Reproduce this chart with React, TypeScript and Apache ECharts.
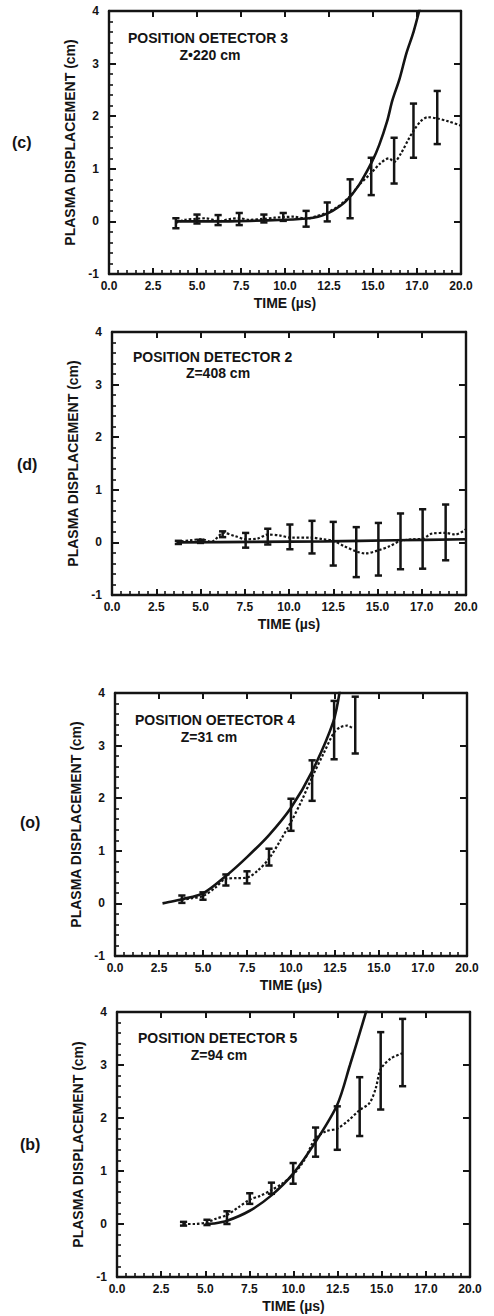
import React, { useEffect, useRef } from "react";
import * as echarts from "echarts";

// ---------- tick labels ----------
const X_TICK_LABELS = ["0.0", "2.5", "5.0", "7.5", "10.0", "12.5", "15.0", "17.0", "20.0"];
const Y_TICK_LABELS = ["-1", "0", "1", "2", "3", "4"];

// ---------- panel (c) : detector 3, z = 220 cm ----------
const C_BAR_T = [3.8, 5.0, 6.2, 7.4, 8.8, 9.9, 11.2, 12.4, 13.7, 14.9, 16.2, 17.3, 18.65];
const C_BAR_LOW = [-0.13, -0.04, -0.07, -0.07, -0.02, 0.01, -0.1, 0.0, 0.06, 0.5, 0.72, 1.21, 1.47];
const C_BAR_HIGH = [0.06, 0.13, 0.12, 0.16, 0.13, 0.16, 0.2, 0.36, 0.8, 1.21, 1.59, 2.24, 2.48];
const C_MEAS_T = [3.8, 4.3, 5.0, 5.5, 6.0, 6.2, 6.8, 7.4, 8.0, 8.8, 9.4, 9.9, 10.5, 11.2, 11.8, 12.4, 13.0, 13.7, 14.2, 14.9, 15.4, 15.9, 16.2, 16.6, 17.0, 17.3, 17.7, 18.1, 18.6, 19.3, 20.0];
const C_MEAS_Y = [-0.03, 0.03, 0.05, 0.06, 0.02, 0.0, 0.04, 0.06, 0.03, 0.05, 0.07, 0.08, 0.09, 0.05, 0.1, 0.17, 0.28, 0.48, 0.69, 0.92, 1.1, 1.2, 1.13, 1.3, 1.55, 1.72, 1.9, 1.98, 1.96, 1.9, 1.82];
const C_FIT_T = [3.8, 6.0, 8.0, 10.0, 11.0, 11.6, 12.1, 12.7, 13.45, 14.2, 14.95, 15.35, 15.8, 16.1, 16.5, 16.9, 17.3, 17.7];
const C_FIT_Y = [0.0, 0.0, 0.01, 0.03, 0.05, 0.07, 0.11, 0.2, 0.38, 0.69, 1.14, 1.45, 1.9, 2.3, 2.7, 3.2, 3.6, 4.1];

// ---------- panel (d) : detector 2, z = 408 cm ----------
const D_BAR_T = [3.75, 5.0, 6.25, 7.55, 8.8, 10.05, 11.3, 12.5, 13.8, 15.05, 16.3, 17.55, 18.85];
const D_BAR_LOW = [-0.03, -0.01, 0.1, -0.1, -0.04, -0.13, -0.21, -0.44, -0.66, -0.63, -0.51, -0.5, -0.34];
const D_BAR_HIGH = [0.03, 0.05, 0.21, 0.18, 0.26, 0.34, 0.41, 0.39, 0.29, 0.37, 0.55, 0.63, 0.72];
const D_MEAS_T = [3.65, 4.4, 5.05, 5.6, 6.3, 6.95, 7.57, 8.2, 8.8, 9.5, 10.1, 11.3, 11.9, 12.5, 13.1, 13.8, 14.3, 15.05, 15.7, 16.3, 17.0, 17.55, 18.1, 18.85, 19.4, 20.0];
const D_MEAS_Y = [0.01, 0.04, 0.06, 0.01, 0.18, 0.12, 0.06, 0.07, 0.15, 0.13, 0.09, 0.09, 0.06, 0.03, -0.07, -0.17, -0.21, -0.15, -0.07, 0.03, 0.06, 0.07, 0.17, 0.18, 0.15, 0.25];
const D_FIT_T = [3.65, 8.0, 12.0, 16.0, 20.0];
const D_FIT_Y = [0.0, 0.01, 0.02, 0.04, 0.06];

// ---------- panel (o) : detector 4, z = 31 cm ----------
const O_BAR_T = [3.8, 5.0, 6.3, 7.5, 8.75, 10.0, 11.2, 12.45, 13.65];
const O_BAR_LOW = [0.01, 0.07, 0.34, 0.38, 0.72, 1.38, 1.95, 2.74, 2.85];
const O_BAR_HIGH = [0.15, 0.21, 0.55, 0.61, 1.04, 1.99, 2.72, 3.85, 3.93];
const O_MEAS_T = [3.8, 4.4, 5.0, 5.7, 6.3, 6.9, 7.5, 8.1, 8.75, 9.4, 10.0, 10.6, 11.2, 11.85, 12.45, 12.8, 13.2, 13.5];
const O_MEAS_Y = [0.07, 0.1, 0.14, 0.3, 0.47, 0.48, 0.49, 0.62, 0.85, 1.2, 1.55, 1.95, 2.4, 2.85, 3.25, 3.35, 3.38, 3.33];
const O_FIT_T = [2.7, 3.0, 3.8, 5.0, 6.3, 7.5, 8.75, 10.0, 11.2, 12.4, 12.8];
const O_FIT_Y = [0.0, 0.02, 0.08, 0.19, 0.52, 0.88, 1.3, 1.82, 2.51, 3.45, 4.1];

// ---------- panel (b) : detector 5, z = 94 cm ----------
const B_BAR_T = [3.77, 5.1, 6.23, 7.52, 8.75, 9.98, 11.25, 12.48, 13.75, 14.94, 16.18];
const B_BAR_LOW = [-0.03, -0.02, 0.0, 0.38, 0.57, 0.76, 1.27, 1.4, 1.66, 2.16, 2.6];
const B_BAR_HIGH = [0.04, 0.08, 0.24, 0.58, 0.78, 1.15, 1.82, 2.22, 2.77, 3.62, 3.87];
const B_MEAS_T = [3.77, 4.4, 5.1, 5.6, 6.23, 6.9, 7.52, 8.1, 8.75, 9.35, 9.98, 10.6, 11.25, 11.85, 12.48, 13.1, 13.75, 14.3, 14.65, 14.94, 15.5, 16.18];
const B_MEAS_Y = [0.0, 0.0, 0.03, 0.1, 0.17, 0.32, 0.46, 0.53, 0.64, 0.76, 0.93, 1.2, 1.62, 1.75, 1.8, 1.95, 2.15, 2.28, 2.55, 2.92, 3.12, 3.22];
const B_FIT_T = [5.0, 5.5, 6.23, 7.52, 8.75, 9.98, 11.25, 12.48, 13.2, 13.75, 14.15];
const B_FIT_Y = [0.0, 0.01, 0.06, 0.25, 0.54, 0.95, 1.55, 2.25, 3.0, 3.6, 4.05];

// ---------- texts ----------
const PANEL_TAGS = ["(c)", "(d)", "(o)", "(b)"];
const DETECTOR_TITLES = ["POSITION OETECTOR 3", "POSITION DETECTOR 2", "POSITION OETECTOR 4", "POSITION DETECTOR 5"];
const Z_TITLES = ["Z\u2022220 cm", "Z=408 cm", "Z=31 cm", "Z=94 cm"];
const Y_NAME = "PLASMA DISPLACEMENT (cm)";
const X_NAME = "TIME (\u00b5s)";

const zip = (a: number[], b: number[]) => a.map((v, i) => [v, b[i]]);
const bars = (t: number[], lo: number[], hi: number[]) => t.map((v, i) => [v, lo[i], hi[i]]);

const PANEL_DATA = [
  { bars: bars(C_BAR_T, C_BAR_LOW, C_BAR_HIGH), meas: zip(C_MEAS_T, C_MEAS_Y), fit: zip(C_FIT_T, C_FIT_Y) },
  { bars: bars(D_BAR_T, D_BAR_LOW, D_BAR_HIGH), meas: zip(D_MEAS_T, D_MEAS_Y), fit: zip(D_FIT_T, D_FIT_Y) },
  { bars: bars(O_BAR_T, O_BAR_LOW, O_BAR_HIGH), meas: zip(O_MEAS_T, O_MEAS_Y), fit: zip(O_FIT_T, O_FIT_Y) },
  { bars: bars(B_BAR_T, B_BAR_LOW, B_BAR_HIGH), meas: zip(B_MEAS_T, B_MEAS_Y), fit: zip(B_FIT_T, B_FIT_Y) },
];

// layout (pixels)
const GRIDS = [
  { left: 109, top: 11, width: 352, height: 263 },
  { left: 112, top: 332, width: 354, height: 263 },
  { left: 115, top: 693, width: 352, height: 263 },
  { left: 117, top: 1012, width: 353, height: 265 },
];
const TAG_POS = [[24, 143], [29, 465], [32, 823], [32, 1145]];
const TITLE_POS = [[128, 38], [133, 357], [135, 720], [138, 1038]];
const Z_POS = [[210, 55], [218, 373], [209, 737], [219, 1055]];

const INK = "#141414";
const FONT = "'Liberation Sans', Arial, sans-serif";

function buildOption() {
  const grid: any[] = [];
  const xAxis: any[] = [];
  const yAxis: any[] = [];
  const series: any[] = [];
  const graphic: any[] = [];

  GRIDS.forEach((g, i) => {
    grid.push({ ...g, containLabel: false });
    const common = {
      type: "value",
      gridIndex: i,
      splitLine: { show: false },
      axisLine: { show: true, onZero: false, lineStyle: { color: INK, width: 2.4 } },
    };
    xAxis.push({
      ...common,
      position: "bottom",
      min: 0,
      max: 20,
      interval: 2.5,
      axisTick: { show: true, inside: true, length: 6, lineStyle: { color: INK, width: 2 } },
      minorTick: { show: true, splitNumber: 5, length: 4, lineStyle: { color: INK, width: 1.6 } },
      axisLabel: {
        show: true,
        margin: 6,
        color: INK,
        fontFamily: FONT,
        fontWeight: "bold",
        fontSize: 12,
        formatter: (v: number) => X_TICK_LABELS[Math.round(v / 2.5)] ?? "",
      },
      name: X_NAME,
      nameLocation: "middle",
      nameGap: 22,
      nameTextStyle: { color: INK, fontFamily: FONT, fontWeight: "bold", fontSize: 14 },
    });
    xAxis.push({
      ...common,
      position: "top",
      min: 0,
      max: 20,
      interval: 2.5,
      axisTick: { show: true, inside: true, length: 6, lineStyle: { color: INK, width: 2 } },
      axisLabel: { show: false },
    });
    yAxis.push({
      ...common,
      position: "left",
      min: -1,
      max: 4,
      interval: 1,
      axisTick: { show: true, inside: true, length: 7, lineStyle: { color: INK, width: 2 } },
      minorTick: { show: true, splitNumber: 5, length: 4, lineStyle: { color: INK, width: 1.6 } },
      axisLabel: {
        show: true,
        margin: 10,
        color: INK,
        fontFamily: FONT,
        fontWeight: "bold",
        fontSize: 12,
        formatter: (v: number) => Y_TICK_LABELS[Math.round(v + 1)] ?? "",
      },
      name: Y_NAME,
      nameLocation: "middle",
      nameRotate: 90,
      nameGap: 30,
      nameTextStyle: { color: INK, fontFamily: FONT, fontWeight: "bold", fontSize: 14 },
    });
    yAxis.push({
      ...common,
      position: "right",
      min: -1,
      max: 4,
      interval: 1,
      axisTick: { show: true, inside: true, length: 7, lineStyle: { color: INK, width: 2 } },
      axisLabel: { show: false },
    });

    const d = PANEL_DATA[i];
    series.push({
      type: "line",
      xAxisIndex: 2 * i,
      yAxisIndex: 2 * i,
      data: d.fit,
      smooth: 0.3,
      showSymbol: false,
      clip: true,
      lineStyle: { color: INK, width: 2.6 },
    });
    series.push({
      type: "line",
      xAxisIndex: 2 * i,
      yAxisIndex: 2 * i,
      data: d.meas,
      smooth: 0.3,
      showSymbol: false,
      clip: true,
      lineStyle: { color: INK, width: 2.2, type: [2.5, 2] },
    });
    series.push({
      type: "custom",
      xAxisIndex: 2 * i,
      yAxisIndex: 2 * i,
      data: d.bars,
      encode: { x: 0, y: [1, 2] },
      clip: false,
      renderItem: (_p: any, api: any) => {
        const t = api.value(0);
        const lo = api.coord([t, api.value(1)]);
        const hi = api.coord([t, api.value(2)]);
        const w = 3.6;
        const st = { stroke: INK, lineWidth: 2.5 };
        return {
          type: "group",
          children: [
            { type: "line", shape: { x1: lo[0], y1: lo[1], x2: hi[0], y2: hi[1] }, style: st },
            { type: "line", shape: { x1: lo[0] - w, y1: lo[1], x2: lo[0] + w, y2: lo[1] }, style: st },
            { type: "line", shape: { x1: hi[0] - w, y1: hi[1], x2: hi[0] + w, y2: hi[1] }, style: st },
          ],
        };
      },
    });

    graphic.push({
      type: "text",
      left: TAG_POS[i][0] - 12,
      top: TAG_POS[i][1] - 9,
      style: { text: PANEL_TAGS[i], fill: INK, font: `bold 16px ${FONT}` },
    });
    graphic.push({
      type: "text",
      x: TITLE_POS[i][0],
      y: TITLE_POS[i][1],
      style: {
        text: DETECTOR_TITLES[i],
        fill: INK,
        font: `bold 14px ${FONT}`,
        textAlign: "left",
        textVerticalAlign: "middle",
      },
    });
    graphic.push({
      type: "text",
      x: Z_POS[i][0],
      y: Z_POS[i][1],
      style: {
        text: Z_TITLES[i],
        fill: INK,
        font: `bold 14px ${FONT}`,
        textAlign: "center",
        textVerticalAlign: "middle",
      },
    });
  });

  return {
    animation: false,
    backgroundColor: "#ffffff",
    grid,
    xAxis,
    yAxis,
    series,
    graphic,
  };
}

export default function App() {
  const ref = useRef<HTMLDivElement>(null);
  useEffect(() => {
    if (!ref.current) return;
    const chart = echarts.init(ref.current, null, { renderer: "svg" });
    chart.setOption(buildOption() as any);
    return () => chart.dispose();
  }, []);
  return (
    <div
      ref={ref}
      style={{ position: "absolute", left: 0, top: 0, width: 494, height: 1316, background: "#fff" }}
    />
  );
}
